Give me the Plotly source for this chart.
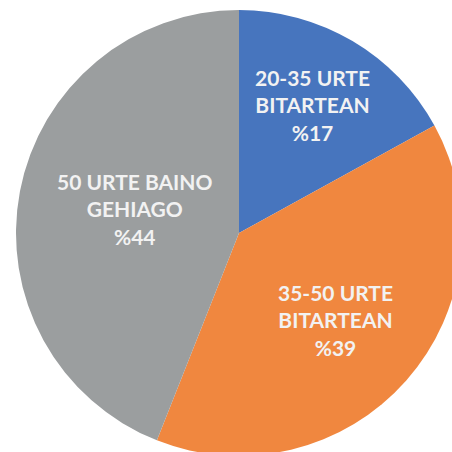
import plotly.graph_objects as go

labels = ["20-35 URTE BITARTEAN", "35-50 URTE BITARTEAN", "50 URTE BAINO GEHIAGO"]
values = [17, 39, 44]
label_lines = [["20-35 URTE", "BITARTEAN"], ["35-50 URTE", "BITARTEAN"], ["50 URTE BAINO", "GEHIAGO"]]
colors = ["#4775BE", "#F0873F", "#9B9E9F"]

# pie is larger than the window in the reference (clipped right and bottom)
W = H = 472
cx, cy, r = 239, 233, 223

fig = go.Figure(go.Pie(
    labels=labels, values=values, sort=False, direction="clockwise", rotation=0,
    marker=dict(colors=colors, line=dict(width=0)),
    textinfo="none", hoverinfo="label+percent", showlegend=False,
    domain=dict(x=[(cx - r) / W, (cx + r) / W], y=[(H - cy - r) / H, (H - cy + r) / H]),
))

label_pos = [(312, 105), (335, 320), (135, 209)]
for lines, v, (lx, ly) in zip(label_lines, values, label_pos):
    txt = "<br>".join(lines + ["%" + str(v)])
    fig.add_annotation(x=lx / W, y=1 - ly / H, xref="paper", yref="paper",
                       xanchor="center", yanchor="middle", text=txt,
                       showarrow=False, align="center",
                       font=dict(family="Lato", size=21, color="#F2F2F2", weight="bold"))

fig.update_layout(width=W, height=H, margin=dict(l=0, r=0, t=0, b=0),
                  paper_bgcolor="white", plot_bgcolor="white")
fig.write_html("out.html", config={"displayModeBar": False},
               post_script="document.body.style.margin='0';document.body.style.overflow='hidden';")
